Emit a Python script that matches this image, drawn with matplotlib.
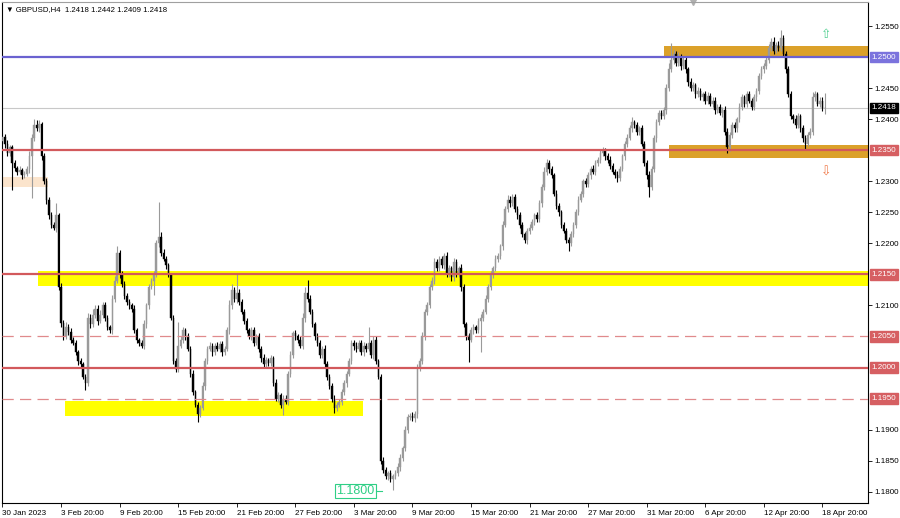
import numpy as np
import matplotlib.pyplot as plt
from matplotlib.transforms import blended_transform_factory

plt.rcParams['font.family'] = ['Liberation Sans', 'DejaVu Sans']

# =============================
# Data (H4 closes, 30 Jan 20:00 .. 19 Apr 00:00)
# =============================

closes_a = [1.2372, 1.2360, 1.2345, 1.2355, 1.2330, 1.2322, 1.2315, 1.2318, 1.2310, 1.2312,
            1.2320, 1.2340, 1.2370, 1.2390, 1.2385, 1.2392, 1.2340, 1.2300, 1.2270, 1.2245,
            1.2230, 1.2225, 1.2245, 1.2130, 1.2072, 1.2050, 1.2065, 1.2058, 1.2045, 1.2040,
            1.2025, 1.2010, 1.2005, 1.1985, 1.1975, 1.2080, 1.2070, 1.2085, 1.2095, 1.2075,
            1.2085, 1.2100, 1.2080, 1.2065, 1.2060]
closes_b = [1.2110, 1.2140, 1.2185, 1.2150, 1.2135, 1.2115, 1.2105, 1.2100, 1.2095, 1.2060,
            1.2045, 1.2040, 1.2035, 1.2070, 1.2100, 1.2130, 1.2140, 1.2150, 1.2200, 1.2210,
            1.2185, 1.2175, 1.2165, 1.2150, 1.2080, 1.2010, 1.1998, 1.2035, 1.2045, 1.2060,
            1.2050, 1.2030, 1.1990, 1.1960, 1.1940, 1.1925, 1.1935, 1.1970, 1.2010, 1.2030,
            1.2035]
closes_c = [1.2025, 1.2035, 1.2030, 1.2038, 1.2025, 1.2030, 1.2060, 1.2100, 1.2125, 1.2110,
            1.2120, 1.2105, 1.2090, 1.2075, 1.2060, 1.2050, 1.2060, 1.2040, 1.2050, 1.2030,
            1.2015, 1.2005, 1.2012, 1.2008, 1.2015, 1.1975, 1.1950, 1.1955, 1.1940, 1.1950,
            1.1945, 1.1990, 1.2020, 1.2055, 1.2050, 1.2045, 1.2035, 1.2080, 1.2120, 1.2110,
            1.2090]
closes_d = [1.2070, 1.2050, 1.2040, 1.2020, 1.2030, 1.2005, 1.1985, 1.1970, 1.1950, 1.1935,
            1.1940, 1.1945, 1.1960, 1.1975, 1.1990, 1.2010, 1.2040, 1.2035, 1.2030, 1.2040,
            1.2025, 1.2035, 1.2030, 1.2040, 1.2020, 1.2045, 1.2010, 1.1985, 1.1850, 1.1835,
            1.1825, 1.1830, 1.1820, 1.1825, 1.1830, 1.1840, 1.1855, 1.1870, 1.1900, 1.1920,
            1.1922, 1.1918, 1.1925, 1.2000]
closes_e = [1.2010, 1.2050, 1.2090, 1.2100, 1.2130, 1.2140, 1.2170, 1.2160, 1.2175, 1.2165,
            1.2180, 1.2150, 1.2160, 1.2145, 1.2170, 1.2150, 1.2160, 1.2130, 1.2070, 1.2050,
            1.2045, 1.2060, 1.2065, 1.2060, 1.2075, 1.2080, 1.2090, 1.2110, 1.2130, 1.2150,
            1.2160, 1.2175, 1.2180, 1.2195, 1.2230, 1.2255, 1.2270, 1.2265, 1.2275, 1.2255,
            1.2245, 1.2230, 1.2215, 1.2205, 1.2220]
closes_f = [1.2225, 1.2235, 1.2245, 1.2240, 1.2265, 1.2290, 1.2315, 1.2330, 1.2320, 1.2310,
            1.2280, 1.2260, 1.2250, 1.2230, 1.2220, 1.2205, 1.2200, 1.2215, 1.2230, 1.2250,
            1.2270, 1.2280, 1.2300, 1.2295, 1.2310, 1.2320, 1.2315, 1.2330, 1.2335, 1.2345,
            1.2350, 1.2340, 1.2335, 1.2325, 1.2315, 1.2310, 1.2305, 1.2320, 1.2340, 1.2360,
            1.2370, 1.2385, 1.2395]
closes_g = [1.2390, 1.2380, 1.2385, 1.2360, 1.2330, 1.2310, 1.2290, 1.2320, 1.2370, 1.2395,
            1.2410, 1.2405, 1.2415, 1.2450, 1.2480, 1.2495, 1.2505, 1.2490, 1.2500, 1.2485,
            1.2495, 1.2480, 1.2460, 1.2450, 1.2455, 1.2440, 1.2445, 1.2435, 1.2440, 1.2430,
            1.2438, 1.2425, 1.2430, 1.2415, 1.2420, 1.2410, 1.2415, 1.2380, 1.2355, 1.2375,
            1.2390, 1.2385]
closes_h = [1.2400, 1.2420, 1.2435, 1.2425, 1.2440, 1.2430, 1.2420, 1.2435, 1.2445, 1.2470,
            1.2480, 1.2485, 1.2495, 1.2515, 1.2525, 1.2510, 1.2520, 1.2515, 1.2530, 1.2505,
            1.2480, 1.2440, 1.2405, 1.2400, 1.2390, 1.2405, 1.2385, 1.2370, 1.2360, 1.2375,
            1.2380, 1.2435, 1.2440, 1.2425, 1.2430, 1.2418, 1.2418]

# upper / lower shadows in pips
wick_up = [5, 4, 6, 3, 4, 5, 3, 6, 4, 5, 4, 8, 6, 10, 8, 6, 4, 5, 6, 4,
           5, 5, 20, 4, 6, 5, 8, 5, 6, 4, 5, 4, 6, 4, 5, 8, 6, 10, 5, 6,
           8, 5, 6, 5, 4, 6, 8, 10, 5, 6, 4, 5, 6, 4, 5, 4, 3, 5, 6, 4,
           5, 4, 6, 5, 57, 8, 6, 5, 4, 3, 5, 6, 38, 5, 6, 4, 5, 4, 6, 4,
           4, 5, 6, 5, 4, 6, 5, 4, 6, 5, 4, 5, 6, 8, 10, 5, 30, 6, 5, 4,
           5, 4, 6, 5, 4, 5, 4, 6, 5, 4, 5, 4, 6, 5, 4, 5, 6, 5, 6, 4,
           5, 4, 6, 8, 10, 21, 6, 5, 4, 6, 5, 4, 6, 5, 4, 5, 6, 5, 4, 5,
           5, 4, 6, 5, 4, 6, 5, 4, 6, 5, 25, 4, 6, 5, 4, 5, 6, 5, 4, 5,
           4, 5, 6, 5, 4, 6, 5, 4, 6, 5, 5, 6, 8, 5, 6, 4, 5, 6, 5, 4,
           5, 4, 6, 5, 4, 6, 5, 4, 6, 5, 4, 5, 6, 5, 4, 5, 6, 5, 6, 4,
           5, 4, 6, 5, 4, 6, 5, 8, 6, 5, 4, 5, 6, 5, 4, 5, 6, 5, 4, 5,
           5, 6, 8, 6, 4, 5, 4, 6, 5, 4, 5, 4, 6, 5, 4, 5, 6, 5, 4, 5,
           5, 4, 6, 5, 4, 6, 5, 4, 6, 5, 4, 5, 6, 5, 4, 5, 6, 5, 8, 4,
           5, 4, 6, 5, 4, 6, 5, 4, 6, 5, 4, 5, 6, 10, 27, 6, 5, 8, 5, 6,
           5, 4, 6, 5, 4, 6, 5, 4, 6, 5, 4, 5, 6, 5, 4, 5, 6, 5, 4, 5,
           5, 4, 6, 5, 4, 6, 5, 4, 6, 5, 4, 5, 6, 5, 6, 5, 8, 5, 6, 14,
           5, 4, 6, 5, 4, 6, 5, 4, 6, 5, 4, 5, 8, 5, 4, 6, 6, 24]
wick_dn = [5, 6, 4, 5, 44, 6, 5, 4, 6, 5, 4, 6, 67, 5, 4, 6, 5, 4, 6, 5,
           5, 4, 6, 5, 6, 5, 4, 6, 5, 4, 5, 6, 5, 4, 11, 5, 6, 4, 5, 6,
           4, 6, 5, 4, 5, 6, 5, 4, 6, 5, 4, 5, 6, 5, 4, 5, 6, 4, 5, 6,
           5, 4, 23, 5, 6, 5, 4, 6, 5, 4, 5, 6, 5, 4, 6, 5, 4, 6, 5, 4,
           13, 5, 4, 6, 5, 4, 6, 5, 4, 5, 6, 5, 4, 6, 5, 4, 6, 5, 4, 5,
           5, 4, 6, 5, 4, 5, 6, 5, 4, 5, 6, 5, 4, 6, 5, 16, 4, 6, 5, 4,
           5, 6, 4, 5, 6, 5, 4, 5, 6, 5, 4, 5, 6, 5, 4, 6, 8, 5, 4, 5,
           5, 6, 4, 5, 6, 5, 4, 5, 6, 5, 4, 5, 6, 5, 4, 6, 5, 4, 6, 5,
           17, 5, 4, 6, 5, 4, 6, 5, 4, 5, 6, 5, 4, 6, 5, 4, 5, 6, 5, 4,
           5, 6, 4, 5, 6, 5, 4, 5, 6, 5, 5, 36, 4, 6, 5, 4, 50, 5, 4, 5,
           5, 6, 4, 5, 6, 5, 4, 5, 6, 5, 4, 5, 6, 5, 4, 6, 5, 4, 6, 5,
           5, 6, 4, 5, 6, 5, 4, 5, 6, 5, 4, 5, 12, 5, 4, 6, 5, 4, 6, 5,
           5, 6, 4, 5, 6, 5, 4, 5, 6, 5, 4, 5, 6, 5, 4, 6, 5, 4, 6, 5,
           5, 6, 4, 5, 6, 15, 4, 5, 6, 5, 4, 5, 6, 5, 4, 6, 5, 4, 6, 5,
           5, 6, 4, 5, 6, 5, 4, 5, 6, 5, 4, 5, 6, 5, 4, 6, 5, 10, 6, 5,
           5, 6, 4, 5, 6, 5, 4, 5, 6, 5, 4, 5, 6, 5, 4, 6, 5, 4, 6, 5,
           5, 6, 4, 5, 6, 5, 4, 5, 6, 8, 4, 5, 6, 5, 4, 6, 5, 9]

first_open = 1.2365

tick_pos = [0, 24, 48, 72, 96, 120, 144, 168, 192, 216, 240, 264, 288, 312, 336]
tick_labels = ["30 Jan 2023", "3 Feb 20:00", "9 Feb 20:00", "15 Feb 20:00", "21 Feb 20:00",
               "27 Feb 20:00", "3 Mar 20:00", "9 Mar 20:00", "15 Mar 20:00", "21 Mar 20:00",
               "27 Mar 20:00", "31 Mar 20:00", "6 Apr 20:00", "12 Apr 20:00", "18 Apr 20:00"]

price_ticks = [1.2550, 1.2450, 1.2400, 1.2300, 1.2250, 1.2200, 1.2100, 1.1900, 1.1850, 1.1800]

# level lines: price, colour, style
levels = [(1.2500, "#6a62d0", "-"), (1.2350, "#d2595c", "-"), (1.2150, "#d2595c", "-"),
          (1.2000, "#d2595c", "-"), (1.2050, "#e08a8c", "--"), (1.1950, "#e08a8c", "--")]

# zones: bar from, price low, price high, colour, bar to
zones = [(-1, 1.2291, 1.2307, "#fbe4cc", 18.7),
         (14.6, 1.2132, 1.2155, "#ffff00", 400),
         (25.6, 1.1922, 1.1946, "#ffff00", 147.8),
         (271.3, 1.2499, 1.2518, "#dba12a", 400),
         (273.3, 1.2337, 1.2358, "#dba12a", 400)]

last_price = 1.2418

# =============================
# Build OHLC
# =============================

closes = np.array(closes_a + closes_b + closes_c + closes_d + closes_e + closes_f + closes_g + closes_h)
opens = np.concatenate([[first_open], closes[:-1]])
highs = np.maximum(opens, closes) + np.array(wick_up) / 10000
lows = np.minimum(opens, closes) - np.array(wick_dn) / 10000
idx = np.arange(len(closes))

# =============================
# Plot
# =============================

fig = plt.figure(figsize=(9, 5.18), dpi=100)
ax = fig.add_axes([2 / 900, 15 / 518, 866 / 900, 501 / 518])

ax.set_xlim(-0.2, 354.7)
ax.set_ylim(1.17818, 1.25887)

for x0, lo, hi, col, x1 in zones:
    ax.fill_between([x0, x1], lo, hi, color=col, lw=0, zorder=1)

ax.axhline(last_price, color="#c8c8c8", lw=0.8, zorder=1.5)

bull = closes >= opens
for mask, col in [(bull, "#9a9a9a"), (~bull, "#000000")]:
    ax.vlines(idx[mask], lows[mask], highs[mask], color=col, lw=0.8, zorder=2)
    body = np.abs(closes[mask] - opens[mask])
    body = np.maximum(body, 0.00006)
    ax.bar(idx[mask], body, bottom=np.minimum(opens, closes)[mask], width=0.62,
           color=col, edgecolor=col, lw=0.3, zorder=3)

for price, col, ls in levels:
    if ls == "-":
        ax.axhline(price, color=col, lw=1.6, zorder=4)
    else:
        ax.axhline(price, color=col, lw=0.9, ls=(0, (9, 5)), zorder=4)

# 1.1800 label near the low
ax.text(136.8, 1.1801, "1.1800", color="#2fcf86", fontsize=9, va="center", ha="left",
        bbox=dict(boxstyle="square,pad=0.1", fc="white", ec="#2fcf86", lw=0.8), zorder=5)
ax.plot([153.2, 155.5], [1.1801, 1.1801], color="#2fcf86", lw=0.8, zorder=5)

# arrows
ax.text(337.5, 1.2537, "\u21e7", color="#4fcf8f", fontsize=9, ha="center", va="center",
        family="DejaVu Sans", zorder=5)
ax.text(337.5, 1.2315, "\u21e9", color="#f07a4a", fontsize=9, ha="center", va="center",
        family="DejaVu Sans", zorder=5)

# axes styling
for s in ax.spines.values():
    s.set_color("#000000")
    s.set_linewidth(0.8)
ax.spines["top"].set_color("#a0a0a0")

ax.yaxis.tick_right()
ax.set_yticks(price_ticks)
ax.set_yticklabels([f"{p:.4f}" for p in price_ticks])
ax.tick_params(axis="y", direction="out", length=3, width=0.6, labelsize=5.8, pad=1.5)

ax.set_xticks(tick_pos)
ax.set_xticklabels(tick_labels, ha="left")
ax.tick_params(axis="x", direction="out", length=3, width=0.6, labelsize=5.8, pad=2)

# coloured price labels on the right scale
tr = blended_transform_factory(ax.transAxes, ax.transData)
box_labels = [(1.2500, "#7b73dd"), (1.2350, "#d65f62"), (1.2150, "#d65f62"),
              (1.2050, "#d65f62"), (1.2000, "#d65f62"), (1.1950, "#d65f62"),
              (last_price, "#000000")]
for price, col in box_labels:
    ax.text(1.0042, price, f"{price:.4f}", transform=tr, fontsize=5.8, color="white",
            ha="left", va="center", clip_on=False,
            bbox=dict(boxstyle="square,pad=0.22", fc=col, ec=col))

ax.text(0.005, 0.992, "\u25bc GBPUSD,H4  1.2418 1.2442 1.2409 1.2418", transform=ax.transAxes,
        fontsize=5.6, ha="left", va="top", color="#000000")
ax.plot([(693 - 2) / 866], [1.0], marker="v", color="#b0b0b0", markersize=4,
        transform=ax.transAxes, clip_on=False)

fig.savefig("out.png", dpi=100)
